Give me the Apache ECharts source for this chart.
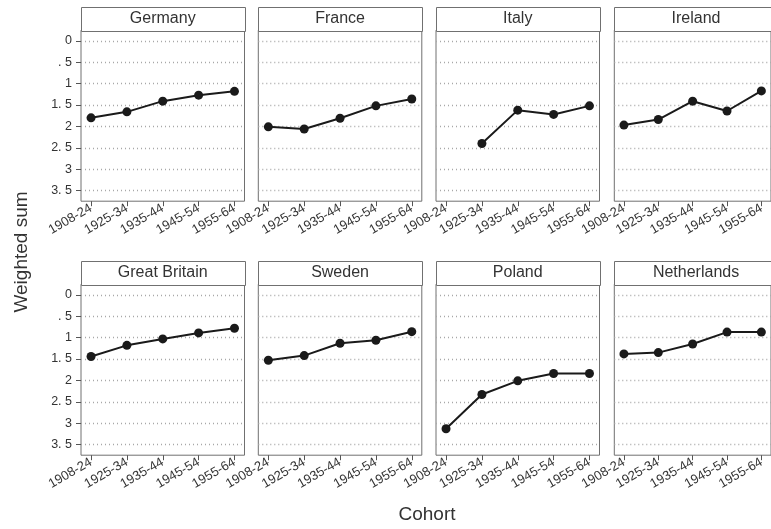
<!DOCTYPE html>
<html>
<head>
<meta charset="utf-8">
<script src="https://cdn.jsdelivr.net/npm/echarts@6/dist/echarts.min.js"></script>
<style>
  html, body { margin: 0; padding: 0; background: #fff; }
  #chart { width: 771px; height: 529px; }
</style>
</head>
<body>
<div id="chart"></div>
<script>
// Cohort categories on the x axis
const cohorts = ['1908-24', '1925-34', '1935-44', '1945-54', '1955-64'];

// Country panels, in reading order
const countries = ['Germany', 'France', 'Italy', 'Ireland', 'Great Britain', 'Sweden', 'Poland', 'Netherlands'];

// Weighted sum by cohort, one list per country (null = no estimate)
const germany      = [1.80, 1.66, 1.41, 1.27, 1.18];
const france       = [2.01, 2.06, 1.81, 1.52, 1.36];
const italy        = [null, 2.40, 1.62, 1.72, 1.52];
const ireland      = [1.97, 1.84, 1.41, 1.64, 1.17];
const greatBritain = [1.44, 1.18, 1.03, 0.89, 0.78];
const sweden       = [1.53, 1.42, 1.13, 1.06, 0.86];
const poland       = [3.13, 2.33, 2.01, 1.84, 1.84];
const netherlands  = [1.38, 1.35, 1.15, 0.87, 0.87];

// Y axis ticks and their printed labels
const yTickValues = [0, 0.5, 1, 1.5, 2, 2.5, 3, 3.5];
const yTickLabels = ['0', '. 5', '1', '1. 5', '2', '2. 5', '3', '3. 5'];

const seriesValues = [germany, france, italy, ireland, greatBritain, sweden, poland, netherlands];

// Panel layout (pixels)
const colLeft = [81, 258.3, 436, 614.3];
const panelW = 163.5;
const stripTop = [6.7, 260.7];
const stripH = 23.5;
const plotH = 171;

const FONT = '"Liberation Sans", Arial, Helvetica, sans-serif';
const INK = '#1a1a1a';
const FRAME = '#707070';

const grids = [], xAxes = [], yAxes = [], series = [], graphics = [];

countries.forEach((name, k) => {
  const row = Math.floor(k / 4), col = k % 4;
  const left = colLeft[col];
  const top = stripTop[row] + stripH;

  grids.push({
    left: left, top: top, width: panelW, height: plotH,
    show: true, borderColor: FRAME, borderWidth: 1, backgroundColor: '#fff'
  });

  xAxes.push({
    gridIndex: k, type: 'value', min: -0.28, max: 4.28, position: 'bottom',
    axisLine: { show: false, onZero: false },
    splitLine: { show: false },
    axisTick: { show: true, customValues: [0, 1, 2, 3, 4], length: 5, lineStyle: { color: '#555' } },
    axisLabel: {
      customValues: [0, 1, 2, 3, 4], rotate: 30, margin: 6,
      fontSize: 13, fontFamily: FONT, color: '#333',
      formatter: v => cohorts[Math.round(v)]
    }
  });

  yAxes.push({
    gridIndex: k, type: 'value', inverse: true, min: -0.25, max: 3.75, position: 'left',
    axisLine: { show: false, onZero: false },
    splitLine: { show: false },
    axisTick: { show: col === 0, customValues: yTickValues, length: 5, lineStyle: { color: '#555' } },
    axisLabel: {
      show: col === 0, customValues: yTickValues, margin: 9,
      fontSize: 12.5, fontFamily: FONT, color: '#333',
      formatter: v => yTickLabels[yTickValues.indexOf(v)]
    }
  });

  const pts = [];
  seriesValues[k].forEach((v, i) => { if (v !== null) pts.push([i, v]); });

  series.push({
    type: 'line', name: name, xAxisIndex: k, yAxisIndex: k,
    data: pts, symbol: 'circle', symbolSize: 9,
    lineStyle: { color: INK, width: 2 },
    itemStyle: { color: INK },
    z: 3,
    markLine: {
      silent: true, symbol: 'none', animation: false, z: 1,
      label: { show: false },
      lineStyle: { color: '#a8a8a8', width: 1.3, type: [1, 3] },
      data: yTickValues.map(v => ({ yAxis: v }))
    }
  });

  // Title strip above each panel
  graphics.push({
    type: 'rect',
    shape: { x: Math.round(left) + 0.5, y: Math.round(stripTop[row]) + 0.5, width: Math.round(panelW), height: Math.round(stripH) },
    style: { fill: '#fff', stroke: FRAME, lineWidth: 1 }
  });
  graphics.push({
    type: 'text',
    x: left + panelW / 2, y: stripTop[row] + stripH / 2 + 0.5,
    style: { text: name, align: 'center', verticalAlign: 'middle', fontSize: 16, fontFamily: FONT, fill: '#333' }
  });
});

// Axis titles
graphics.push({
  type: 'text', x: 22, y: 252, rotation: Math.PI / 2,
  style: { text: 'Weighted sum', align: 'center', verticalAlign: 'middle', fontSize: 19, fontFamily: FONT, fill: '#333' }
});
graphics.push({
  type: 'text', x: 427, y: 515,
  style: { text: 'Cohort', align: 'center', verticalAlign: 'middle', fontSize: 19, fontFamily: FONT, fill: '#333' }
});

const chart = echarts.init(document.getElementById('chart'), null, { renderer: 'canvas' });
chart.setOption({
  backgroundColor: '#fff',
  animation: false,
  grid: grids,
  xAxis: xAxes,
  yAxis: yAxes,
  series: series,
  graphic: graphics
});
</script>
</body>
</html>
